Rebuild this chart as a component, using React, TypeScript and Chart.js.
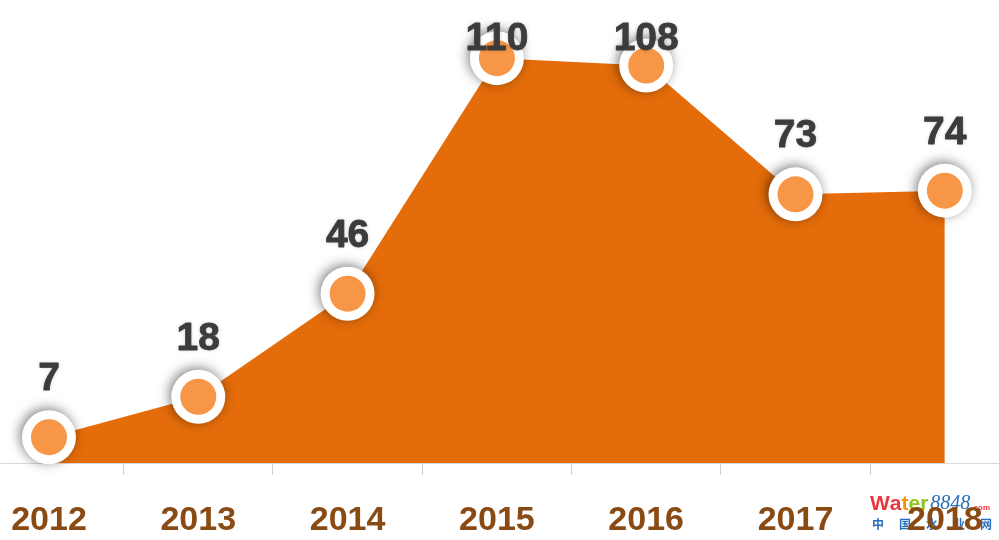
import React, { useEffect, useRef } from "react";
import { Chart, registerables } from "chart.js";

Chart.register(...registerables);

const years = ["2012", "2013", "2014", "2015", "2016", "2017", "2018"];
const values = [7, 18, 46, 110, 108, 73, 74];

const AREA_COLOR = "#E46C0A";
const POINT_FILL = "#F79646";
const LABEL_COLOR = "#3C3C3C";
const AXIS_LABEL_COLOR = "#8A4A14";

const dataLabelPlugin = {
  id: "dataLabels",
  afterDatasetsDraw(chart: any) {
    const meta = chart.getDatasetMeta(2);
    const ctx = chart.ctx;
    ctx.save();
    ctx.font = "bold 39px 'Liberation Sans', Arial, sans-serif";
    ctx.fillStyle = LABEL_COLOR;
    ctx.strokeStyle = LABEL_COLOR;
    ctx.lineWidth = 0.8;
    ctx.lineJoin = "round";
    ctx.textAlign = "center";
    ctx.textBaseline = "alphabetic";
    meta.data.forEach((pt: any, i: number) => {
      const y = Math.max(pt.y - 47, 50);
      ctx.shadowColor = "rgba(0,0,0,0.2)";
      ctx.shadowBlur = 4;
      ctx.fillText(String(values[i]), pt.x, y);
      ctx.shadowColor = "rgba(0,0,0,0)";
      ctx.shadowBlur = 0;
      ctx.strokeText(String(values[i]), pt.x, y);
    });
    ctx.restore();
  },
};

const shadowPlugin = {
  id: "pointShadow",
  beforeDatasetDraw(chart: any, args: any) {
    if (args.index === 1) {
      const ctx = chart.ctx;
      ctx.save();
      ctx.shadowColor = "rgba(0,0,0,0.5)";
      ctx.shadowBlur = 12;
      ctx.shadowOffsetX = -2;
      ctx.shadowOffsetY = -2;
    }
  },
  afterDatasetDraw(chart: any, args: any) {
    if (args.index === 1) {
      chart.ctx.restore();
    }
  },
};

const watermarkPlugin = {
  id: "watermark",
  beforeDraw(chart: any) {
    const ctx = chart.ctx;
    ctx.save();
    ctx.textBaseline = "alphabetic";
    ctx.textAlign = "left";
    ctx.font = "bold 21px 'Liberation Sans', Arial, sans-serif";
    const parts: [string, string][] = [
      ["W", "#E8383D"],
      ["a", "#E8383D"],
      ["t", "#F39800"],
      ["e", "#8FC31F"],
      ["r", "#8FC31F"],
    ];
    let x = 870;
    const y = 510;
    parts.forEach(([t, c]) => {
      ctx.fillStyle = c;
      ctx.fillText(t, x, y);
      x += ctx.measureText(t).width;
    });
    ctx.font = "italic 20px 'Liberation Serif', 'DejaVu Serif', serif";
    ctx.fillStyle = "#2A6EBB";
    ctx.fillText("8848", x + 2, y - 1);
    const w = ctx.measureText("8848").width;
    ctx.font = "bold 8px 'Liberation Sans', Arial, sans-serif";
    ctx.fillStyle = "#E8383D";
    ctx.fillText(".com", x + w + 3, y);
    ctx.font = "bold 12px 'Noto Sans CJK SC', sans-serif";
    ctx.fillStyle = "#2A6EBB";
    const chars = ["中", "国", "水", "业", "网"];
    chars.forEach((c, i) => {
      ctx.fillText(c, 872 + i * 27, 529);
    });
    ctx.restore();
  },
};

export default function App() {
  const canvasRef = useRef<HTMLCanvasElement | null>(null);

  useEffect(() => {
    document.body.style.margin = "0";
    const canvas = canvasRef.current;
    if (!canvas) return;
    const pts = values.map((v, i) => ({ x: i, y: v }));
    const chart = new Chart(canvas, {
      type: "line",
      data: {
        datasets: [
          {
            data: pts,
            order: 3,
            fill: "origin",
            backgroundColor: AREA_COLOR,
            borderWidth: 0,
            borderColor: AREA_COLOR,
            pointRadius: 0,
            tension: 0,
          },
          {
            data: pts,
            order: 2,
            showLine: false,
            fill: false,
            pointRadius: 27,
            pointBorderWidth: 0,
            pointBackgroundColor: "#FFFFFF",
            pointBorderColor: "#FFFFFF",
            clip: false as any,
          },
          {
            data: pts,
            order: 1,
            showLine: false,
            fill: false,
            pointRadius: 18,
            pointBorderWidth: 0,
            pointBackgroundColor: POINT_FILL,
            pointBorderColor: POINT_FILL,
            clip: false as any,
          },
        ],
      },
      options: {
        responsive: false,
        animation: false,
        devicePixelRatio: 1,
        layout: { padding: 0, autoPadding: false },
        plugins: {
          legend: { display: false },
          tooltip: { enabled: false },
        },
        scales: {
          x: {
            type: "linear",
            min: -0.328,
            max: 6.363,
            afterBuildTicks: (scale: any) => {
              scale.ticks = years.map((_, i) => ({ value: i }));
            },
            afterFit: (scale: any) => {
              scale.height = 77;
              scale.paddingLeft = 0;
              scale.paddingRight = 0;
            },
            grid: {
              offset: true,
              drawOnChartArea: false,
              drawTicks: true,
              tickLength: 12,
              color: "#D0D0D0",
              lineWidth: 1,
            },
            border: { display: true, color: "#D9D9D9", width: 1 },
            ticks: {
              autoSkip: false,
              maxRotation: 0,
              padding: 25,
              color: AXIS_LABEL_COLOR,
              font: { family: "'Liberation Sans', Arial, sans-serif", size: 34, weight: "bold" },
              callback: (v: any) => years[Math.round(Number(v))] ?? "",
            },
          },
          y: {
            display: false,
            min: 0,
            max: 125.8,
          },
        },
      },
      plugins: [watermarkPlugin, shadowPlugin, dataLabelPlugin],
    });
    return () => chart.destroy();
  }, []);

  return (
    <div style={{ position: "absolute", left: 0, top: 0, width: 999, height: 540, background: "#FFFFFF" }}>
      <canvas ref={canvasRef} width={999} height={540} style={{ width: 999, height: 540, display: "block" }} />
    </div>
  );
}
